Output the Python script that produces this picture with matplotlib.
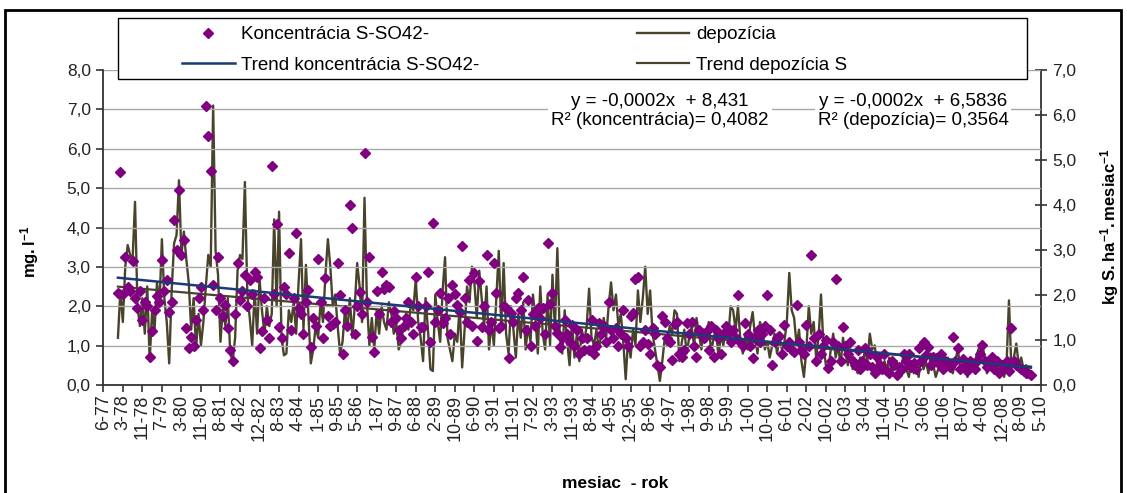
import numpy as np
import matplotlib
matplotlib.use('Agg')
import matplotlib.pyplot as plt
from matplotlib.patches import Rectangle
from matplotlib.ticker import FuncFormatter

plt.rcParams['font.family'] = ['Liberation Sans', 'DejaVu Sans']
plt.rcParams['mathtext.fontset'] = 'custom'
plt.rcParams['mathtext.rm'] = 'Liberation Sans'
plt.rcParams['mathtext.bf'] = 'Liberation Sans:bold'

# category axis labels (mesiac-rok), one label every 8 categories
month_labels = ['6-77', '3-78', '11-78', '7-79', '3-80', '11-80', '8-81', '4-82', '12-82',
                '8-83', '4-84', '1-85', '9-85', '5-86', '1-87', '9-87', '6-88', '2-89',
                '10-89', '6-90', '3-91', '11-91', '7-92', '3-93', '11-93', '8-94', '4-95',
                '12-95', '8-96', '4-97', '1-98', '9-98', '5-99', '1-00', '10-00', '6-01',
                '2-02', '10-02', '6-03', '3-04', '11-04', '7-05', '3-06', '11-06', '8-07',
                '4-08', '12-08', '8-09', '5-10']
label_step = 8
first_cat = 6  # first category that has data

# koncentracia S-SO42- (mg/l), left axis
conc = [2.33, 5.4, 2.3, 3.26, 2.5, 2.4, 3.14, 2.2, 1.95, 2.4, 1.65, 2.1, 2.0, 0.72, 1.36, 1.9,
        2.25, 2.1, 3.18, 2.4, 2.67, 1.86, 2.1, 4.2, 3.43, 4.96, 3.3, 3.69, 1.44, 0.93, 1.23, 1.0,
        1.65, 2.2, 2.5, 1.9, 7.08, 6.33, 5.44, 2.54, 1.9, 3.26, 2.2, 1.74, 2.03, 1.45, 0.89, 0.6,
        1.8, 3.1, 2.16, 2.4, 2.8, 2.0, 2.67, 2.3, 2.88, 2.75, 0.93, 1.36, 2.2,
        1.65, 1.2, 5.55, 2.3, 4.1, 1.48, 1.19, 2.5, 2.3, 3.36, 1.4, 2.2, 3.86, 1.95, 1.8, 1.3,
        2.1, 2.42, 0.97, 1.7, 1.5, 3.2, 2.1, 1.2, 2.71, 1.74, 1.5, 1.55, 1.6, 3.11, 2.29, 0.8,
        1.9, 1.5, 4.58, 3.98, 1.3, 2.0, 2.35, 1.8, 5.9, 2.1, 3.25, 1.23, 0.85, 2.4, 1.8, 2.86,
        2.45, 2.54, 2.5, 1.6, 1.89, 1.7, 1.4, 1.19, 1.5, 1.7, 2.1, 1.6, 1.3, 2.75, 2.0, 1.48,
        1.48, 2.0, 2.88, 1.1, 4.11, 1.6, 1.9, 2.33, 1.57, 1.7, 2.2, 1.3, 2.54, 2.3, 2.03, 1.85,
        3.53, 2.2, 1.6, 2.67, 1.5, 2.84, 1.13, 2.63, 1.48, 2.0, 3.3, 1.4, 1.6, 3.1, 2.33, 1.45,
        1.5, 2.0, 1.95, 0.68, 1.82, 1.6, 2.2, 2.33, 1.9, 2.75, 1.4, 2.16, 1.0, 1.8, 1.5, 1.95,
        1.7, 1.95, 1.3, 3.6, 2.05, 2.33, 1.5, 1.31, 0.97, 1.2, 1.65, 1.3, 1.1, 1.53, 1.0, 1.4,
        0.8, 1.2, 0.9,
        1.2, 0.9, 1.65, 0.8, 1.0, 1.57, 1.3, 1.5, 1.1, 2.12, 1.4, 1.2, 1.45, 1.0, 1.3, 1.9,
        1.2, 1.0, 1.75, 1.82, 2.7, 2.75, 1.0, 1.1, 1.4, 1.05, 0.8, 1.45, 1.3, 0.5, 0.45, 1.74,
        1.6, 1.2, 1.1, 0.64, 1.55, 1.6, 0.8, 0.7, 0.9, 1.57, 1.3, 1.6, 1.0, 0.7, 1.4, 1.3,
        1.2, 1.35, 0.9, 1.5, 0.7, 1.4, 1.2, 0.8, 1.3, 1.5, 1.3, 1.1, 1.4, 1.2, 2.29, 1.1, 1.0,
        1.57, 1.3, 1.0, 0.68, 1.2, 1.4, 1.1, 1.3, 1.5, 2.29, 1.4, 0.5, 1.1, 1.2, 1.25, 0.8,
        1.53, 1.0, 1.1, 0.9, 0.85, 2.03, 1.1, 0.9, 0.8, 1.53, 1.0, 3.3, 1.2, 0.6, 1.3, 0.8,
        1.0, 1.15, 0.42, 0.6, 1.1, 2.7, 1.0, 0.6, 1.48, 1.0, 0.8, 1.1, 0.6, 0.5, 0.9, 0.4,
        0.6, 0.95, 0.5, 0.8, 0.45, 0.3, 0.7, 0.5, 0.4, 0.8, 0.35, 0.3, 0.6, 0.5, 0.25, 0.45,
        0.4, 0.8,
        0.6, 0.8, 0.45, 0.55, 0.4, 0.93, 0.6, 1.1, 0.75, 0.97, 0.5, 0.7, 0.68, 0.55, 0.8, 0.4,
        0.6, 0.5, 0.45, 1.23, 0.6, 0.93, 0.4, 0.65, 0.5, 0.35, 0.6, 0.55, 0.4, 0.6, 0.8, 1.02,
        0.6, 0.45, 0.55, 0.7, 0.4, 0.6, 0.3, 0.5, 0.45, 0.6, 0.35, 1.44, 0.6, 0.5, 0.45, 0.4,
        0.35, 0.3, 0.3, 0.25]

# depozicia S (kg S/ha/mesiac), right axis
depo = [1.05, 2.1, 1.4, 2.63, 3.11, 2.89, 2.8, 4.07, 1.75, 1.31, 1.93, 1.14, 2.19, 0.53, 1.66,
        1.23, 2.28, 1.75, 3.24, 1.93, 1.4, 0.48, 2.1, 3.15, 3.33, 4.55, 2.89, 3.41, 2.8, 2.28,
        1.23, 1.93, 0.79, 1.58, 0.88, 1.4, 2.19, 2.89, 2.63, 6.21, 2.98, 2.45, 0.96, 1.75, 1.31,
        1.93, 0.7, 0.53, 1.05, 2.54, 2.89, 2.8, 4.51, 2.01, 1.49, 0.88, 2.1, 1.14, 2.36, 1.66, 1.14,
        1.75, 1.31, 1.58, 3.68, 1.75, 3.85, 1.05, 0.66, 0.7, 1.66, 1.4, 1.84, 1.14, 2.28, 3.24,
        1.23, 2.67, 1.58, 0.48, 0.79, 1.31, 1.05, 1.84, 1.4, 2.45, 3.24, 2.63, 1.75, 2.01, 1.31,
        0.7, 0.96, 1.66, 1.23, 1.93, 1.05, 1.75, 2.71, 2.19, 1.4, 4.16, 1.84, 0.88, 1.49, 0.79,
        1.66, 1.14, 1.75, 1.4, 1.23, 1.84, 1.58, 1.14, 1.4, 0.79, 0.96, 1.31, 1.58, 1.23, 1.84,
        1.66, 2.36, 1.4, 1.05,
        0.53, 1.93, 1.23, 0.35, 0.31, 2.01, 1.4, 0.96, 2.1, 2.84, 1.05, 0.79, 0.53, 1.14, 0.96,
        1.75, 0.39, 1.23, 2.19, 1.84, 2.63, 2.28, 1.49, 2.54, 1.93, 1.31, 2.19, 0.79, 1.4, 0.88,
        1.93, 2.98, 1.31, 2.71, 1.14, 0.7, 1.75, 1.23, 0.61, 1.58, 1.05, 1.84, 0.79, 1.31, 0.96,
        2.01, 1.49, 0.7, 2.19, 1.14, 0.79, 2.01, 0.88, 2.45, 1.23, 3.04, 1.05, 0.7, 1.66, 0.96,
        0.44, 1.4, 0.61, 1.14, 0.53, 1.23, 0.96,
        1.31, 2.14, 1.05, 0.88, 1.23, 0.79, 1.14, 1.49, 1.05, 1.75, 2.28, 1.66, 2.01, 1.31, 1.58,
        0.96, 0.13, 1.05, 0.61, 1.23, 0.88, 2.1, 1.4, 1.93, 2.63, 1.58, 2.1, 1.14, 0.79, 0.44,
        0.09, 0.53, 1.05, 0.88, 1.31, 1.14, 1.66, 1.58, 0.53, 0.96, 1.23, 0.7, 1.05, 1.31, 0.88,
        1.49, 1.14, 0.79, 1.23, 0.96, 1.4, 0.7, 1.05, 1.23, 0.61, 1.14, 0.88, 1.31, 1.05, 1.75,
        1.66, 1.23, 1.75, 0.96, 0.7,
        1.14, 0.79, 1.31, 1.62, 1.05, 0.7, 1.4, 1.23, 0.79, 0.96, 0.61, 0.88, 1.14, 0.7, 1.05,
        0.79, 0.96, 1.4, 2.49, 1.66, 1.49, 0.88, 1.23, 0.53, 0.18, 0.79, 1.75, 1.14, 1.4, 0.61,
        1.05, 2.01, 0.88, 0.44, 0.31, 0.79, 1.14, 0.61, 0.88, 0.44, 1.05, 0.7, 0.44, 0.79, 0.35,
        0.53, 0.26, 0.61, 0.44, 0.79, 0.53, 1.14, 0.79, 0.88, 0.44, 0.7, 0.26, 0.53, 0.35, 0.61,
        0.26, 0.44, 0.53, 0.26, 0.44, 0.7,
        0.35, 0.18, 0.53, 0.26, 0.44, 0.18, 0.61, 0.35, 0.53, 0.26, 0.7, 0.44, 0.18, 0.35, 0.53,
        0.26, 0.44, 0.61, 0.35, 0.26, 0.53, 0.79, 0.44, 0.35, 0.61, 0.18, 0.44, 0.35, 0.53, 0.7,
        0.88, 0.96, 0.61, 0.26, 0.44, 0.35, 0.53, 0.26, 0.35, 0.44, 0.18, 0.44, 1.88, 0.35, 0.61,
        0.92, 0.44, 0.61, 0.35, 0.44, 0.26, 0.26]

purple = '#800080'
olive = '#4a432b'
navy = '#1b3a78'
axis_col = '#333333'

W, H = 1127, 493
fig = plt.figure(figsize=(W / 100, H / 100), dpi=100)
ax = fig.add_axes([103.3 / W, 108 / H, 937.4 / W, 315 / H])
ax2 = ax.twinx()
ax.set_zorder(ax2.get_zorder() + 1)  # diamonds above the deposition line
ax.patch.set_visible(False)

x_c = first_cat + np.arange(len(conc))
x_d = first_cat + np.arange(len(depo))

# deposition + its linear trend on the right axis
l_dep, = ax2.plot(x_d, depo, color=olive, lw=1.7)
fit_d = np.polyfit(x_d, depo, 1)
ends_d = x_d[[0, -1]]
l_tdep, = ax2.plot(ends_d, np.polyval(fit_d, ends_d), color=olive, lw=1.6)

# concentration + its linear trend on the left axis
l_conc, = ax.plot(x_c, conc, ls='none', marker='D', ms=5.1, color=purple, mec=purple)
fit_c = np.polyfit(x_c, conc, 1)
ends_c = x_c[[0, -1]]
l_tconc, = ax.plot(ends_c, np.polyval(fit_c, ends_c), color=navy, lw=1.8)

comma = FuncFormatter(lambda v, p: '{:.1f}'.format(v).replace('.', ','))

ax.set_xlim(0, label_step * (len(month_labels) - 1))
ax.set_ylim(0, 8)
ax2.set_ylim(0, 7)
ax.set_yticks(np.arange(0, 9, 1))
ax2.set_yticks(np.arange(0, 8, 1))
ax.yaxis.set_major_formatter(comma)
ax2.yaxis.set_major_formatter(comma)
ax.set_xticks(np.arange(len(month_labels)) * label_step)
ax.set_xticklabels(month_labels, rotation=90, ha='center', va='top')

ax.yaxis.grid(True, color='#a8a8a8', lw=1.0)
ax.set_axisbelow(True)

for a in (ax, ax2):
    for s in a.spines.values():
        s.set_color(axis_col)
        s.set_linewidth(1.3)
ax.spines['top'].set_visible(False)
ax.spines['right'].set_visible(False)
ax2.spines['top'].set_visible(False)
ax2.spines['left'].set_visible(False)
ax2.spines['bottom'].set_visible(False)

ax.tick_params(axis='y', direction='out', length=5, width=1.2, color=axis_col,
               labelsize=12.5, pad=4, labelcolor='#222222')
ax.tick_params(axis='x', direction='out', length=5, width=1.2, color=axis_col,
               labelsize=13, pad=2, labelcolor='#222222')
ax2.tick_params(axis='y', direction='inout', length=9, width=1.2, color=axis_col,
                labelsize=12.5, pad=4, labelcolor='#222222')

# axis titles
fig.text(30 / W, 1 - 252 / H, r'$\mathbf{mg.l^{-1}}$', rotation=90,
         ha='center', va='center', fontsize=12)
fig.text(1110 / W, 1 - 227 / H, r'$\mathbf{kg\ S.ha^{-1}.mesiac^{-1}}$', rotation=90,
         ha='center', va='center', fontsize=12)
fig.text(615 / W, 1 - 484 / H, 'mesiac  - rok', ha='center', va='center',
         fontsize=12.5, fontweight='bold')

# trend equations
box = dict(fc='white', ec='none', boxstyle='square,pad=0.15')
fig.text(660 / W, 1 - 111 / H, 'y = -0,0002x  + 8,431\nR² (koncentrácia)= 0,4082',
         ha='center', va='center', fontsize=13.5, linespacing=1.1, bbox=box, zorder=4)
fig.text(913 / W, 1 - 111 / H, 'y = -0,0002x  + 6,5836\nR² (depozícia)= 0,3564',
         ha='center', va='center', fontsize=13.5, linespacing=1.1, bbox=box, zorder=4)

# legend with its own frame
frame = Rectangle((118 / W, 1 - 79 / H), (1027 - 118) / W, (79 - 18) / H,
                  transform=fig.transFigure, fc='white', ec='black', lw=1.0, zorder=5)
fig.add_artist(frame)
leg = fig.legend([l_conc, l_tconc, l_dep, l_tdep],
                 ['Koncentrácia S-SO42-', 'Trend koncentrácia S-SO42-',
                  'depozícia', 'Trend depozícia S'],
                 loc='upper left', bbox_to_anchor=(182 / W, 1 - 26 / H), ncol=2,
                 frameon=False, fontsize=13.5, handlelength=2.8, handletextpad=0.35,
                 columnspacing=8.4, labelspacing=0.72, borderaxespad=0, borderpad=0)
leg.set_zorder(6)

# outer chart border
border = Rectangle((5 / W, -0.05), (1121 - 5) / W, 1.05 - 10 / H,
                   transform=fig.transFigure, fill=False, ec='black', lw=2.0, zorder=7)
fig.add_artist(border)

fig.savefig('out.png', dpi=100)
